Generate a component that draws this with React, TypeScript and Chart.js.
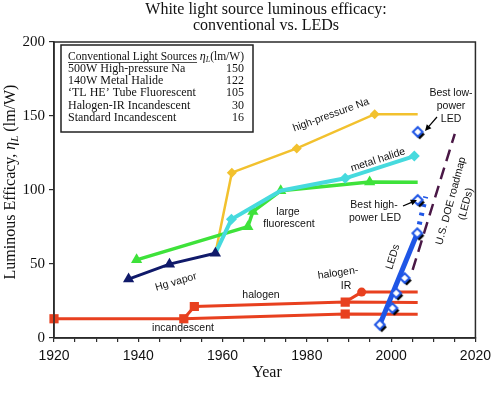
import React, { useEffect, useRef } from 'react';
import Chart from 'chart.js/auto';

// --- data ---
const incYears = [1920, 1950.8, 1989.1, 2006.3];
const incEff = [13, 13, 16.2, 16];

const halYears = [1950.8, 1953.3, 1989.1, 2006.3];
const halEff = [13, 21.3, 24.3, 24];

const halIrYears = [1989.1, 1993, 2006.3];
const halIrEff = [24.3, 31, 31];

const hgYears = [1937.7, 1947.4, 1958.3];
const hgEff = [39.8, 49.9, 57.3];

const fluoYears = [1939.6, 1966, 1967.2, 1973.8, 1994.9, 2006.3];
const fluoEff = [52.8, 75.2, 85.4, 99.5, 105.4, 105.2];

const mhYears = [1958.3, 1962.1, 1973.8, 1989.1, 2005.5];
const mhEff = [57.3, 80.2, 99.5, 107.9, 122.9];

const naYears = [1958.3, 1962.2, 1977.6, 1996.1, 2006.3];
const naEff = [57.3, 111.7, 128.1, 151.2, 151.2];

const ledFitYears = [1997.3, 2006.2];
const ledFitEff = [9, 70.8];
const ledTrendYears = [2006.2, 2008.2];
const ledTrendEff = [70.8, 95.5];
const ledYears = [1997.3, 2000.3, 2001.2, 2003.2, 2006.2, 2006.3, 2006.3];
const ledEff = [9, 20.2, 30.3, 40.5, 70.8, 93.3, 139.3];

const doeYears = [2005.1, 2015.1];
const doeEff = [46, 138];

const xTickLabels = [1920, 1940, 1960, 1980, 2000, 2020];

const tableSources = [
  '500W High-pressure Na',
  '140W Metal Halide',
  '\u2018TL HE\u2019 Tube Fluorescent',
  'Halogen-IR Incandescent',
  'Standard Incandescent',
];
const tableValues = ['150', '122', '105', '30', '16'];

const titleLines = ['White light source luminous efficacy:', 'conventional vs. LEDs'];

const pts = (xs: number[], ys: number[]) => xs.map((x, i) => ({ x, y: ys[i] }));

const RED = '#e8401f';
const NAVY = '#101a6a';
const GREEN = '#3ee23a';
const CYAN = '#46dade';
const YELLOW = '#f2c12e';
const BLUE = '#1f56e6';
const PURPLE = '#4a1846';

const SERIF = '"Liberation Serif", "Times New Roman", serif';
const SANS = '"Liberation Sans", Arial, sans-serif';

function makeLedMarker() {
  const c = document.createElement('canvas');
  c.width = 18;
  c.height = 18;
  const g = c.getContext('2d')!;
  const dia = (cx: number, cy: number, r: number) => {
    g.beginPath();
    g.moveTo(cx, cy - r);
    g.lineTo(cx + r, cy);
    g.lineTo(cx, cy + r);
    g.lineTo(cx - r, cy);
    g.closePath();
  };
  dia(11, 11.5, 5);
  g.fillStyle = '#000';
  g.fill();
  dia(9, 9, 4.8);
  g.fillStyle = '#fff';
  g.fill();
  g.strokeStyle = BLUE;
  g.lineWidth = 2;
  g.stroke();
  return c;
}

function text(ctx: CanvasRenderingContext2D, s: string, x: number, y: number, deg = 0) {
  ctx.save();
  ctx.translate(x, y);
  ctx.rotate((deg * Math.PI) / 180);
  ctx.fillText(s, 0, 0);
  ctx.restore();
}

function arrow(ctx: CanvasRenderingContext2D, x1: number, y1: number, x2: number, y2: number) {
  const a = Math.atan2(y2 - y1, x2 - x1);
  ctx.beginPath();
  ctx.moveTo(x1, y1);
  ctx.lineTo(x2 - 4 * Math.cos(a), y2 - 4 * Math.sin(a));
  ctx.stroke();
  ctx.beginPath();
  ctx.moveTo(x2, y2);
  ctx.lineTo(x2 - 7 * Math.cos(a - 0.45), y2 - 7 * Math.sin(a - 0.45));
  ctx.lineTo(x2 - 7 * Math.cos(a + 0.45), y2 - 7 * Math.sin(a + 0.45));
  ctx.closePath();
  ctx.fill();
}

const decorPlugin = {
  id: 'decor',
  afterDraw(chart: any) {
    const ctx: CanvasRenderingContext2D = chart.ctx;
    const a = chart.chartArea;
    ctx.save();

    // frame
    ctx.strokeStyle = '#2b2b2b';
    ctx.lineWidth = 1.5;
    ctx.strokeRect(a.left, a.top, a.right - a.left, a.bottom - a.top);

    // title
    ctx.fillStyle = '#111';
    ctx.textAlign = 'center';
    ctx.textBaseline = 'middle';
    ctx.font = `16px ${SERIF}`;
    ctx.fillText(titleLines[0], 266, 10);
    ctx.fillText(titleLines[1], 266, 26);

    // x axis title
    ctx.fillText('Year', 267, 373);

    // y axis title
    ctx.save();
    ctx.translate(11, 182);
    ctx.rotate(-Math.PI / 2);
    const p1 = 'Luminous Efficacy, ';
    const p2 = '\u03b7';
    const p3 = 'L';
    const p4 = ' (lm/W)';
    ctx.font = `16px ${SERIF}`;
    const w1 = ctx.measureText(p1).width;
    const w4 = ctx.measureText(p4).width;
    ctx.font = `italic 16px ${SERIF}`;
    const w2 = ctx.measureText(p2).width;
    ctx.font = `italic 11px ${SERIF}`;
    const w3 = ctx.measureText(p3).width;
    let cx = -(w1 + w2 + w3 + w4) / 2;
    ctx.textAlign = 'left';
    ctx.font = `16px ${SERIF}`;
    ctx.fillText(p1, cx, 0);
    cx += w1;
    ctx.font = `italic 16px ${SERIF}`;
    ctx.fillText(p2, cx, 0);
    cx += w2;
    ctx.font = `italic 11px ${SERIF}`;
    ctx.fillText(p3, cx, 4);
    cx += w3;
    ctx.font = `16px ${SERIF}`;
    ctx.fillText(p4, cx, 0);
    ctx.restore();

    // table
    ctx.fillStyle = '#fff';
    ctx.fillRect(61, 45, 192, 87);
    ctx.strokeStyle = '#222';
    ctx.lineWidth = 1.5;
    ctx.strokeRect(61, 45, 192, 87);
    ctx.fillStyle = '#111';
    ctx.textBaseline = 'middle';
    ctx.textAlign = 'left';
    ctx.font = `11.5px ${SERIF}`;
    const head = 'Conventional Light Sources';
    ctx.fillText(head, 68, 56.5);
    const hw = ctx.measureText(head).width;
    ctx.lineWidth = 0.8;
    ctx.beginPath();
    ctx.moveTo(68, 62.5);
    ctx.lineTo(68 + hw, 62.5);
    ctx.stroke();
    ctx.textAlign = 'right';
    ctx.fillText('(lm/W)', 244, 56.5);
    const uw = ctx.measureText('(lm/W)').width;
    ctx.font = `italic 8px ${SERIF}`;
    ctx.fillText('L', 244 - uw, 59.5);
    const lw = ctx.measureText('L').width;
    ctx.font = `italic 12px ${SERIF}`;
    ctx.fillText('\u03b7', 244 - uw - lw, 56.5);
    ctx.font = `12px ${SERIF}`;
    tableSources.forEach((s, i) => {
      const y = 68.5 + i * 12.4;
      ctx.textAlign = 'left';
      ctx.fillText(s, 68, y);
      ctx.textAlign = 'right';
      ctx.fillText(tableValues[i], 244, y);
    });

    // series labels
    ctx.textAlign = 'center';
    ctx.font = `10.5px ${SANS}`;
    text(ctx, 'high-pressure Na', 331, 115, -20);
    text(ctx, 'metal halide', 378, 160, -18);
    text(ctx, 'large', 288, 212);
    text(ctx, 'fluorescent', 289, 224);
    text(ctx, 'Hg vapor', 176, 282, -16);
    text(ctx, 'halogen', 261, 295);
    text(ctx, 'halogen-', 338, 273, -8);
    text(ctx, 'IR', 346, 286);
    text(ctx, 'incandescent', 183, 328);
    text(ctx, 'LEDs', 393, 257, -73);
    text(ctx, 'U.S. DOE roadmap', 451, 201, -75);
    text(ctx, '(LEDs)', 466, 204, -75);
    text(ctx, 'Best high-', 374, 205);
    text(ctx, 'power LED', 375, 218);
    text(ctx, 'Best low-', 451, 93);
    text(ctx, 'power', 451, 106);
    text(ctx, 'LED', 451, 119);

    ctx.strokeStyle = '#000';
    ctx.fillStyle = '#000';
    ctx.lineWidth = 1.2;
    arrow(ctx, 403, 206, 417, 200);
    arrow(ctx, 437, 117, 425, 131);

    ctx.restore();
  },
};

const App: React.FC = () => {
  const chartRef = useRef<HTMLCanvasElement>(null);
  const chartInstanceRef = useRef<Chart | null>(null);

  useEffect(() => {
    if (!chartRef.current) return;
    const ctx = chartRef.current.getContext('2d');
    if (!ctx) return;
    if (chartInstanceRef.current) chartInstanceRef.current.destroy();

    const ledMarker = makeLedMarker();

    chartInstanceRef.current = new Chart(ctx, {
      type: 'scatter',
      data: {
        datasets: [
          {
            label: 'LED data',
            data: pts(ledYears, ledEff),
            showLine: false,
            pointStyle: ledMarker as any,
            pointRadius: 6,
            order: 0,
          },
          {
            label: 'LED fit',
            data: pts(ledFitYears, ledFitEff),
            showLine: true,
            borderColor: BLUE,
            borderWidth: 5,
            pointRadius: 0,
            order: 1,
          },
          {
            label: 'LED trend',
            data: pts(ledTrendYears, ledTrendEff),
            showLine: true,
            borderColor: BLUE,
            borderWidth: 5,
            borderDash: [3, 6],
            pointRadius: 0,
            order: 1,
          },
          {
            label: 'DOE roadmap',
            data: pts(doeYears, doeEff),
            showLine: true,
            borderColor: PURPLE,
            borderWidth: 2.5,
            borderDash: [12, 7],
            pointRadius: 0,
            order: 2,
          },
          {
            label: 'incandescent',
            data: pts(incYears, incEff),
            showLine: true,
            clip: false,
            borderColor: RED,
            borderWidth: 3,
            pointStyle: 'rect',
            pointRadius: [6.5, 6.5, 6.5, 0],
            pointBorderWidth: 0,
            pointBackgroundColor: RED,
            pointBorderColor: RED,
            order: 3,
          },
          {
            label: 'halogen',
            data: pts(halYears, halEff),
            showLine: true,
            borderColor: RED,
            borderWidth: 3,
            pointStyle: 'rect',
            pointRadius: [0, 6.5, 6.5, 0],
            pointBorderWidth: 0,
            pointBackgroundColor: RED,
            pointBorderColor: RED,
            order: 3,
          },
          {
            label: 'halogen-IR',
            data: pts(halIrYears, halIrEff),
            showLine: true,
            borderColor: RED,
            borderWidth: 3,
            pointStyle: 'circle',
            pointRadius: [0, 4.5, 0],
            pointBorderWidth: 0,
            pointBackgroundColor: RED,
            pointBorderColor: RED,
            order: 3,
          },
          {
            label: 'Hg vapor',
            data: pts(hgYears, hgEff),
            showLine: true,
            borderColor: NAVY,
            borderWidth: 3,
            pointStyle: 'triangle',
            pointRadius: 6.5,
            pointBorderWidth: 0,
            pointBackgroundColor: NAVY,
            pointBorderColor: NAVY,
            order: 4,
          },
          {
            label: 'metal halide',
            data: pts(mhYears, mhEff),
            showLine: true,
            borderColor: CYAN,
            borderWidth: 4,
            pointStyle: 'rectRot',
            pointRadius: [0, 5.5, 0, 5.5, 5.5],
            pointBorderWidth: 0,
            pointBackgroundColor: CYAN,
            pointBorderColor: CYAN,
            order: 5,
          },
          {
            label: 'large fluorescent',
            data: pts(fluoYears, fluoEff),
            showLine: true,
            borderColor: GREEN,
            borderWidth: 3.5,
            pointStyle: 'triangle',
            pointRadius: [6.5, 6.5, 6.5, 6.5, 6.5, 0],
            pointBorderWidth: 0,
            pointBackgroundColor: GREEN,
            pointBorderColor: GREEN,
            order: 6,
          },
          {
            label: 'high-pressure Na',
            data: pts(naYears, naEff),
            showLine: true,
            borderColor: YELLOW,
            borderWidth: 2.5,
            pointStyle: 'rectRot',
            pointRadius: [0, 5, 5, 5, 0],
            pointBorderWidth: 0,
            pointBackgroundColor: YELLOW,
            pointBorderColor: YELLOW,
            order: 7,
          },
        ],
      },
      options: {
        responsive: false,
        animation: false,
        layout: { padding: { top: 42, right: 17, left: 0, bottom: 0 } },
        plugins: {
          legend: { display: false },
          tooltip: { enabled: false },
          title: { display: false },
        },
        scales: {
          x: {
            type: 'linear',
            min: 1920,
            max: 2020,
            afterFit: (s: any) => {
              s.height = 62;
            },
            border: { display: true, color: '#2b2b2b', width: 1.5 },
            grid: { drawOnChartArea: false, drawTicks: true, tickLength: 4, color: '#2b2b2b', lineWidth: 1.2 },
            ticks: {
              stepSize: 5,
              autoSkip: false,
              maxRotation: 0,
              padding: 6,
              color: '#111',
              font: { family: SANS, size: 14 },
              callback: (v: any) => (xTickLabels.includes(Number(v)) ? String(v) : ''),
            },
          },
          y: {
            type: 'linear',
            min: 0,
            max: 200,
            afterFit: (s: any) => {
              s.width = 54;
            },
            border: { display: true, color: '#2b2b2b', width: 1.5 },
            grid: { drawOnChartArea: false, drawTicks: true, tickLength: 5, color: '#2b2b2b', lineWidth: 1.2 },
            ticks: {
              stepSize: 50,
              padding: 4,
              color: '#111',
              font: { family: SERIF, size: 15 },
            },
          },
        },
      },
      plugins: [decorPlugin],
    } as any);

    return () => {
      if (chartInstanceRef.current) {
        chartInstanceRef.current.destroy();
        chartInstanceRef.current = null;
      }
    };
  }, []);

  return (
    <div style={{ position: 'absolute', left: 0, top: 0, width: 497, height: 400, background: '#fff' }}>
      <canvas ref={chartRef} width={497} height={400} style={{ display: 'block' }}></canvas>
    </div>
  );
};

export default App;
